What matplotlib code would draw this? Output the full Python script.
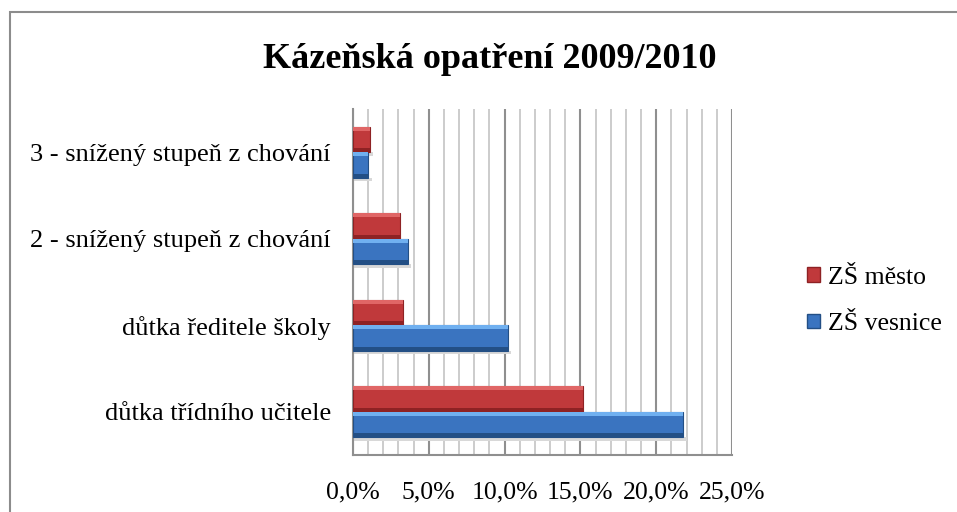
import matplotlib
matplotlib.use("Agg")
import matplotlib.pyplot as plt
from matplotlib.patches import Rectangle
import numpy as np

categories = ["důtka třídního učitele", "důtka ředitele školy",
              "2 - snížený stupeň z chování", "3 - snížený stupeň z chování"]
vesnice = [21.8, 10.2, 3.6, 1.0]
mesto = [15.2, 3.3, 3.1, 1.1]
series_names = ["ZŠ město", "ZŠ vesnice"]
xticks = [0, 5, 10, 15, 20, 25]
xtick_labels = ["0,0%", "5,0%", "10,0%", "15,0%", "20,0%", "25,0%"]
title = "Kázeňská opatření 2009/2010"

plt.rcParams['font.family'] = ['Liberation Serif', 'DejaVu Serif']

RED = "#c0393b"
RED_L = "#e06666"
RED_D = "#8e2224"
BLUE = "#3a74c0"
BLUE_L = "#70b0f0"
BLUE_D = "#234f85"

fig = plt.figure(figsize=(9.57, 5.12), dpi=100)
fig.patches.append(Rectangle((10/957, -0.1), 1.2, 1 - 12/512 + 0.1, transform=fig.transFigure,
                             fill=False, edgecolor="#8c8c8c", linewidth=1.5))
ax = fig.add_axes([353/957, 1 - 455/512, 379/957, 346/512])

y = np.arange(len(categories))
h = 0.295

def bevel_bars(vals, offs, base, light, dark):
    for yi, v in zip(y, vals):
        y0 = yi + offs - h/2
        ax.barh(yi + offs, v, height=h, color=base, edgecolor=dark, linewidth=0.8, zorder=3)
        ax.barh(y0 + h*0.85, v, height=h*0.15, left=0, align='edge', color=light,
                linewidth=0, zorder=4)
        ax.barh(y0, v, height=h*0.15, left=0, align='edge', color=dark,
                linewidth=0, zorder=4)
        ax.barh(y0 - 0.04, v + 0.25, height=0.04, align='edge', color="#d8d8d8",
                linewidth=0, zorder=2)

bevel_bars(vesnice, -h/2, BLUE, BLUE_L, BLUE_D)
bevel_bars(mesto, h/2, RED, RED_L, RED_D)

ax.set_xlim(0, 25)
ax.set_ylim(-0.5, 3.5)
ax.set_xticks(xticks)
ax.set_xticklabels(xtick_labels, fontsize=18.5)
ax.set_xticks(np.arange(0, 26, 1), minor=True)
ax.grid(axis='x', which='minor', color="#c4c4c4", linewidth=1.2, zorder=0)
ax.grid(axis='x', which='major', color="#8f8f8f", linewidth=1.5, zorder=0)
ax.set_axisbelow(True)
ax.set_yticks(y)
ax.set_yticklabels(categories, fontsize=19)
ax.tick_params(axis='both', which='both', length=0)
ax.tick_params(axis='x', pad=19)
ax.tick_params(axis='y', pad=16)
for s in ['top', 'right']:
    ax.spines[s].set_visible(False)
for s in ['left', 'bottom']:
    ax.spines[s].set_color("#8f8f8f")
    ax.spines[s].set_linewidth(1.5)

fig.text(0.512, 1 - 59/512, title, ha='center', va='center', fontsize=26, fontweight='bold')

handles = [Rectangle((0, 0), 1, 1, facecolor=RED, edgecolor=RED_D),
           Rectangle((0, 0), 1, 1, facecolor=BLUE, edgecolor=BLUE_D)]
fig.legend(handles, series_names, loc='center left', bbox_to_anchor=(784/957, 1 - 301/512),
           frameon=False, fontsize=18.5, handlelength=0.5, handleheight=0.5,
           handletextpad=0.3, labelspacing=0.95)

fig.savefig("out.png", dpi=100)
